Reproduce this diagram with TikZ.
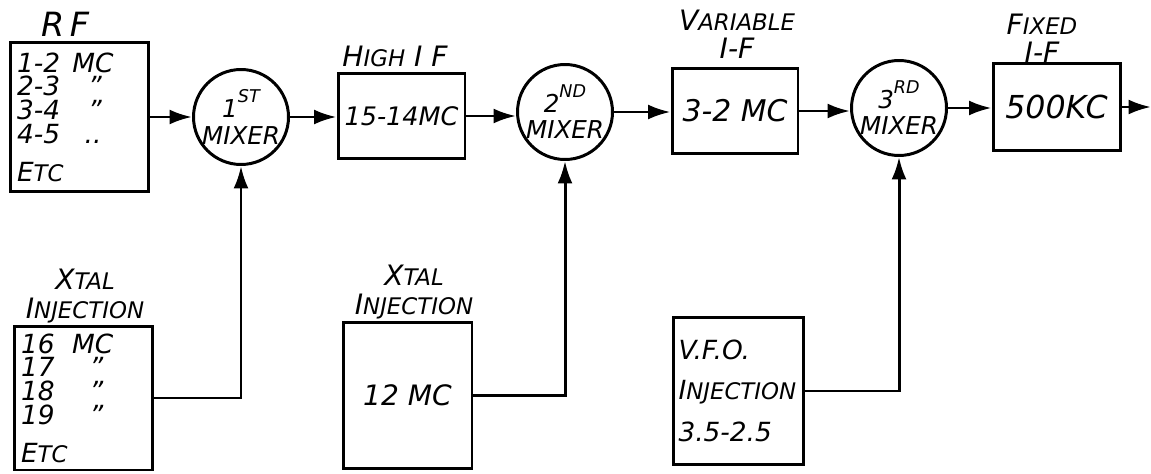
\documentclass[tikz,border=0pt]{standalone}
\usepackage{fontspec}
\setmainfont{DejaVu Sans}
\usetikzlibrary{arrows.meta}

\newcommand\hcap[2]{#1{\fontsize{13}{14}\selectfont #2}}
\newcommand\supr[1]{\raisebox{1.1ex}{\fontsize{10}{11}\selectfont #1}}

\begin{document}
\begin{tikzpicture}[x=0.02cm, y=-0.02cm, line width=1.7pt,
  blok/.style={draw, line width=1.7pt, inner sep=3pt, font=\itshape\fontsize{15}{13.5}\selectfont},
  mixer/.style={draw, circle, minimum size=1.9cm, inner sep=0pt, align=center, font=\itshape\fontsize{14}{17}\selectfont},
  lbl/.style={align=center, font=\itshape\fontsize{16}{16}\selectfont},
  arr/.style={-{Latex[length=4.5mm,width=3mm]}}]
\useasboundingbox (0,0) rectangle (1151,473);

% signal path
\node[blok, minimum width=2.78cm, minimum height=3cm, text width=2.5cm, align=left] (rf) at (79.5,117)
  {1-2\hspace{7pt}MC\\2-3\hspace{16pt}"\\3-4\hspace{16pt}"\\4-5\hspace{14pt}..\\[8pt]\hcap{E}{TC}};
\node[mixer] (m1) at (241,117) {1\supr{ST}\\[-2pt]MIXER};
\node[blok, minimum width=2.54cm, minimum height=1.7cm, font=\itshape\fontsize{14.5}{15}\selectfont] (hif) at (401.5,116) {15-14MC};
\node[mixer] (m2) at (565,112) {2\supr{ND}\\[-2pt]MIXER};
\node[blok, minimum width=2.52cm, minimum height=1.7cm, font=\itshape\fontsize{17}{18}\selectfont] (vif) at (735,111) {3-2 MC};
\node[mixer] (m3) at (899,108) {3\supr{RD}\\[-2pt]MIXER};
\node[blok, minimum width=2.54cm, minimum height=1.76cm, font=\itshape\fontsize{18}{20}\selectfont] (fif) at (1056.5,107) {500KC};
\coordinate (out) at (1151,107);

% injection boxes
\node[blok, minimum width=2.78cm, minimum height=2.88cm, text width=2.5cm, align=left] (xi1) at (83.5,398)
  {16\hspace{10pt}MC\\17\hspace{20pt}"\\18\hspace{20pt}"\\19\hspace{20pt}"\\[8pt]\hcap{E}{TC}};
\node[blok, minimum width=2.58cm, minimum height=2.94cm, font=\itshape\fontsize{16}{17}\selectfont] (xi2) at (407.5,395.5) {12 MC};
\node[blok, minimum width=2.58cm, minimum height=2.96cm, text width=2.4cm, align=left] (vfo) at (738.5,391)
  {V.F.O.\\[9pt]\hcap{I}{NJECTION}\\[9pt]3.5-2.5};

% labels
\node[lbl, font=\itshape\fontsize{19}{20}\selectfont] (rflbl) at (65,24) {R\,F};
\node[lbl] (hiflbl) at (395,56) {\hcap{H}{IGH} I F};
\node[lbl] (viflbl) at (737,34) {\hcap{V}{ARIABLE}\\I-F};
\node[lbl] (fiflbl) at (1042,38) {\hcap{F}{IXED}\\I-F};
\node[lbl] (xi1lbl) at (85,296) {\hcap{X}{TAL}\\\hcap{I}{NJECTION}};
\node[lbl] (xi2lbl) at (414,292) {\hcap{X}{TAL}\\\hcap{I}{NJECTION}};

% connectors
\draw[arr] (rf.east) -- (m1.west);
\draw[arr] (m1.east) -- (m1.east -| hif.west);
\draw[arr] (hif.east) -- (hif.east -| m2.west);
\draw[arr] (m2.east) -- (m2.east -| vif.west);
\draw[arr] (vif.east) -- (vif.east -| m3.west);
\draw[arr] (m3.east) -- (m3.east -| fif.west);
\draw[arr] (fif.east) -- (out);
\draw[arr] (xi1.east) -| (m1.south);
\draw[arr] (xi2.east) -| (m2.south);
\draw[arr] (vfo.east) -| (m3.south);
\end{tikzpicture}
\end{document}
